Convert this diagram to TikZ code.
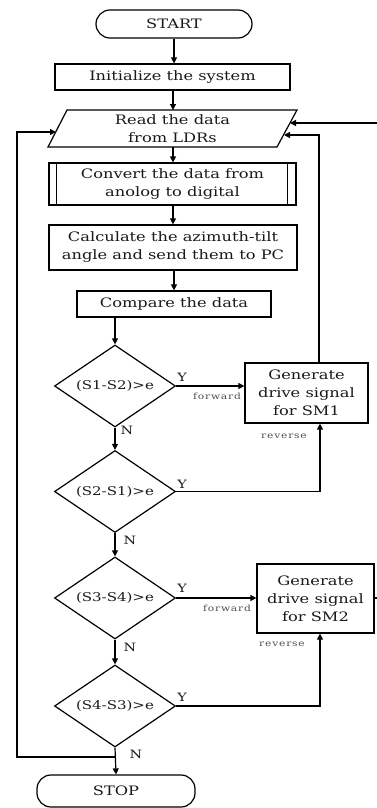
\documentclass[tikz,border=0pt]{standalone}
\usepackage{fontspec}
\setmainfont{DejaVu Serif}[FakeStretch=1.25]
\usetikzlibrary{shapes.geometric,arrows.meta}
\begin{document}
\begin{tikzpicture}[x=1pt,y=-1pt,
  line width=1.2pt,
  every node/.style={font=\fontsize{13}{18}\selectfont, text=black!90},
  box/.style={draw, rectangle, inner sep=0pt, align=center},
  term/.style={draw, rectangle, rounded corners=14pt, inner sep=0pt},
  dec/.style={draw, diamond, aspect=1.48, inner sep=0pt, minimum width=121pt, minimum height=82pt, font=\fontsize{12}{14}\selectfont},
  txt/.style={inner sep=0pt, align=center},
  arr/.style={-{Triangle[length=6pt,width=6pt]}},
  yn/.style={font=\fontsize{11.5}{12}\selectfont, inner sep=0pt},
  small/.style={font=\fontsize{8.5}{9}\selectfont\addfontfeature{LetterSpace=10}, inner sep=0pt, text=black!70}]
\useasboundingbox (0,0) rectangle (377,808);
% nodes
\node[term, minimum width=156pt, minimum height=28pt] (start) at (174,24) {START};
\node[box, minimum width=235pt, minimum height=26pt] (init) at (172.5,77) {Initialize the system};
\draw (67,110) -- (297,110) -- (277,147) -- (48,147) -- cycle;
\node[txt] (read) at (172.5,128.5) {Read the data\\from LDRs};
\coordinate (rtop) at (173,110);
\coordinate (rbot) at (173,147);
\coordinate (lin) at (56,132);
\coordinate (rin1) at (290,123);
\coordinate (rin2) at (284,135);
\node[box, minimum width=247pt, minimum height=42pt] (conv) at (172.5,184) {Convert the data from\\anolog to digital};
\draw ([xshift=8pt]conv.north west) -- ([xshift=8pt]conv.south west);
\draw ([xshift=-9pt]conv.north east) -- ([xshift=-9pt]conv.south east);
\node[box, minimum width=248pt, minimum height=45pt] (calc) at (173,247.5) {Calculate the azimuth-tilt\\angle and send them to PC};
\node[box, minimum width=194pt, minimum height=26pt] (cmp) at (174,304) {Compare the data};
\node[dec] (d1) at (115,386) {(S1-S2)>e};
\node[dec] (d2) at (115,491.5) {(S2-S1)>e};
\node[dec] (d3) at (115,598) {(S3-S4)>e};
\node[dec] (d4) at (115,706) {(S4-S3)>e};
\node[box, minimum width=123pt, minimum height=60pt] (sm1) at (306.5,393) {Generate\\drive signal\\for SM1};
\node[box, minimum width=117pt, minimum height=69pt] (sm2) at (315.5,598.5) {Generate\\drive signal\\for SM2};
\node[term, minimum width=158pt, minimum height=32pt] (stop) at (116,791) {STOP};
\coordinate (jn) at (115,757);
\coordinate (loopc) at (17,132);
\coordinate (redge1) at (377,598);
\coordinate (redge2) at (377,123);
% connectors
\draw[arr] (start) -- (start |- init.north);
\draw[arr] (init.south -| rtop) -- (rtop);
\draw[arr] (rbot) -- (rbot |- conv.north);
\draw[arr] (conv.south -| calc) -- (calc.north);
\draw[arr] (calc.south -| cmp) -- (cmp.north);
\draw[arr] (cmp.south -| d1) -- (d1.north);
\draw[arr] (d1.south) -- (d2.north);
\draw[arr] (d2.south) -- (d3.north);
\draw[arr] (d3.south) -- (d4.north);
\draw[arr] (d4.south) -- (stop.north);
\draw[arr] (d1.east) -- (d1.east -| sm1.west);
\draw[arr] (d3.east) -- (d3.east -| sm2.west);
\draw[arr] (d2.east) -| ([xshift=13.5pt]sm1.south);
\draw[arr] (d4.east) -| ([xshift=4.5pt]sm2.south);
\draw[arr] ([xshift=12.5pt]sm1.north) |- (rin2);
\draw (sm2.east |- redge1) -- (redge1);
\draw[arr] (redge2) -- (rin1);
\draw[arr] (jn) -| (loopc) -- (lin);
% labels
\node[yn] (y1) at (182,377) {Y};
\node[yn] (y2) at (182,484) {Y};
\node[yn] (y3) at (182,588) {Y};
\node[yn] (y4) at (182,697) {Y};
\node[yn] (n1) at (127,430) {N};
\node[yn] (n2) at (130,540) {N};
\node[yn] (n3) at (130,647) {N};
\node[yn] (n4) at (136,754) {N};
\node[small] (f1) at (217,396) {forward};
\node[small] (f2) at (227,608) {forward};
\node[small] (r1) at (284,436) {reverse};
\node[small] (r2) at (282,644) {reverse};
\end{tikzpicture}
\end{document}
